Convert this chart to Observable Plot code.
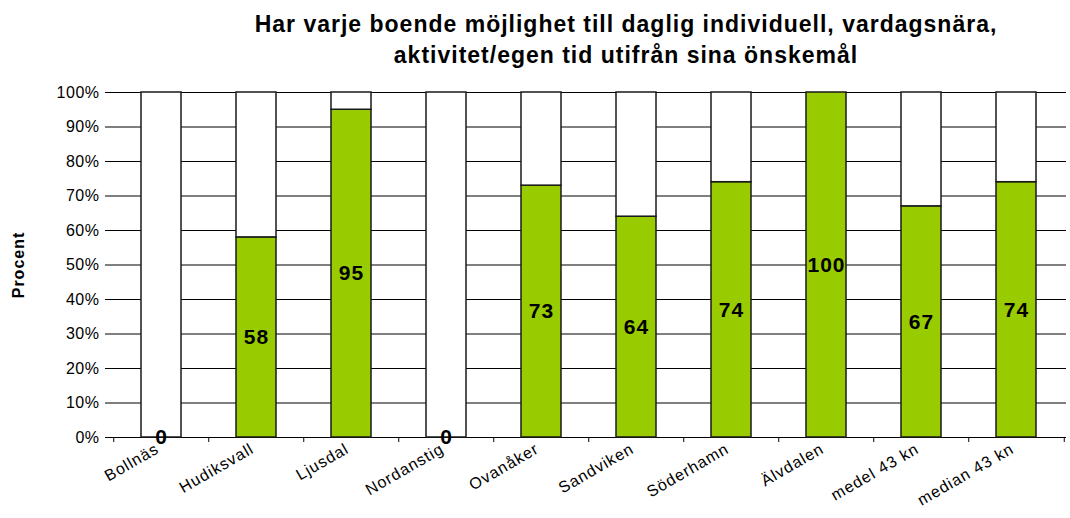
<!DOCTYPE html>
<html><head><meta charset="utf-8">
<script src="https://cdn.jsdelivr.net/npm/d3@7"></script>
<script src="https://cdn.jsdelivr.net/npm/@observablehq/plot@0.6"></script>
<style>
body{margin:0;background:#fff;font-family:"Liberation Sans",Arial,sans-serif;}
#title{height:80px;box-sizing:border-box;padding-top:9px;text-align:center;font-weight:bold;font-size:23px;letter-spacing:1px;line-height:31px;padding-left:182px;color:#000;}
g[aria-label="y-axis tick label"]{font-size:16px;letter-spacing:0.5px;}
g[aria-label="x-axis tick label"]{font-size:16px;letter-spacing:1px;}
g.barlbl{letter-spacing:1px;}
</style></head><body>
<div id="title">Har varje boende möjlighet till daglig individuell, vardagsnära,<br>aktivitet/egen tid utifrån sina önskemål</div>
<div id="chart"></div>
<script>
const categories = ["Bollnäs","Hudiksvall","Ljusdal","Nordanstig","Ovanåker","Sandviken","Söderhamn","Älvdalen","medel 43 kn","median 43 kn"];
const values = [0,58,95,0,73,64,74,100,67,74];
const yTicks = [0,10,20,30,40,50,60,70,80,90,100];
const data = categories.map((c,i)=>({cat:c, v:values[i]}));
const W=1070, mL=111, mR=4;
const step=(W-mL-mR)/categories.length;
const plot = Plot.plot({
  width:W, height:438, marginLeft:mL, marginRight:mR, marginTop:12, marginBottom:81,
  style:{fontFamily:"Liberation Sans, Arial, sans-serif", fontSize:"15px", color:"#000", background:"#fff"},
  x:{type:"band", domain:categories, paddingInner:0.58, paddingOuter:0.29},
  y:{domain:[0,100]},
  marks:[
    Plot.ruleY(yTicks,{stroke:"#000", strokeWidth:1}),
    Plot.barY(data,{x:"cat", y1:0, y2:"v", fill:"#99CC00", stroke:"#1a1a1a", strokeWidth:1.5}),
    Plot.barY(data,{x:"cat", y1:"v", y2:100, fill:"#fff", stroke:"#1a1a1a", strokeWidth:1.5}),
    Plot.ruleX([0],{frameAnchor:"left", stroke:"#000"}),
    Plot.ruleX(categories,{x:d=>d, dx:-step/2, y1:0, y2:0, insetBottom:-5, stroke:"#000"}),
    Plot.ruleX([categories[categories.length-1]],{x:d=>d, dx:step/2, y1:0, y2:0, insetBottom:-5, stroke:"#000"}),
    Plot.axisY({ticks:yTicks, tickFormat:d=>d+"%", tickSize:6, tickPadding:6, label:null}),
    Plot.axisX({tickRotate:-30, tickSize:0, tickPadding:10, label:null, dx:-4}),
    Plot.text(data,{x:"cat", y:d=>d.v/2, text:d=>String(d.v), fontWeight:"bold", fontSize:21, fill:"#000", className:"barlbl"}),
    Plot.text(["Procent"],{frameAnchor:"left", dx:-93, rotate:-90, textAnchor:"middle", text:d=>d, fontWeight:"bold", fontSize:16, fill:"#000", className:"barlbl"})
  ]
});
document.getElementById("chart").appendChild(plot);
</script>
</body></html>
